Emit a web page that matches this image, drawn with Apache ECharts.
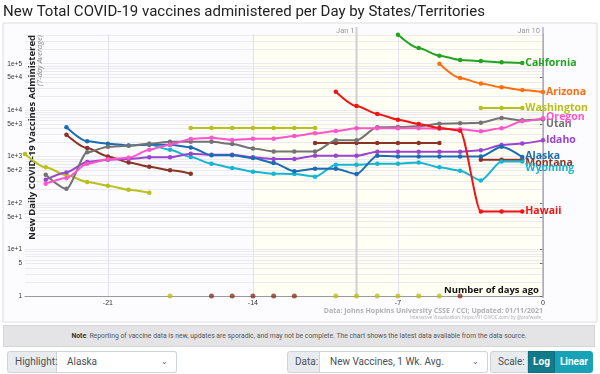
<!DOCTYPE html>
<html><head><meta charset="utf-8">
<script src="https://cdn.jsdelivr.net/npm/echarts@6/dist/echarts.min.js"></script>
<style>
html,body{margin:0;padding:0;background:#fff;width:600px;height:374px;overflow:hidden;font-family:Roboto,"Liberation Sans",sans-serif;}
#chart{position:absolute;left:0;top:0;width:600px;height:324px;}
.note{position:absolute;left:3px;top:325px;width:592px;height:22px;background:#e4e4e6;border:1px solid #d6d6d8;box-sizing:border-box;font-size:6.8px;color:#555;text-align:center;line-height:21px;}
.note b{color:#333;}
.box{position:absolute;top:351px;height:22px;box-sizing:border-box;font-size:10px;color:#495057;line-height:20px;white-space:nowrap;}
.lbl{background:#e9ecef;border:1px solid #ced4da;border-radius:3px 0 0 3px;padding-left:7px;}
.sel{background:#fff;border:1px solid #ced4da;border-left:none;border-radius:0 3px 3px 0;padding-left:10px;}
.chev{position:absolute;right:8px;top:0;font-size:8px;color:#666;}
.btn{color:#fff;font-weight:bold;text-align:center;}
</style></head>
<body>
<div id="chart"></div>
<div class="note"><b>Note</b>: Reporting of vaccine data is new, updates are sporadic, and may not be complete. The chart shows the latest data available from the data source.</div>
<div class="box lbl" style="left:7px;width:50px;">Highlight:</div>
<div class="box sel" style="left:57px;width:120px;">Alaska<span class="chev">&#8964;</span></div>
<div class="box lbl" style="left:287px;width:33px;">Data:</div>
<div class="box sel" style="left:320px;width:168px;">New Vaccines, 1 Wk. Avg.<span class="chev">&#8964;</span></div>
<div class="box lbl" style="left:490px;width:38px;">Scale:</div>
<div class="box btn" style="left:528px;width:27px;background:#117a8b;border:1px solid #10707f;">Log</div>
<div class="box btn" style="left:555px;width:38px;background:#17a2b8;border:1px solid #17a2b8;border-radius:0 3px 3px 0;">Linear</div>
<script>
const N = null;
const days = [-25,-24,-23,-22,-21,-20,-19,-18,-17,-16,-15,-14,-13,-12,-11,-10,-9,-8,-7,-6,-5,-4,-3,-2,-1,0];
const xTicks = [-21,-14,-7,0];
const yLabelTicks = [1,5,10,50,100,500,1000,5000,10000,50000,100000];
const yMax = 436000;

const california = [N,N,N,N,N,N,N,N,N,N,N,N,N,N,N,N,N,N,422000,218000,149000,120500,114600,107000,104000,N];
const arizona    = [N,N,N,N,N,N,N,N,N,N,N,N,N,N,N,N,N,N,N,N,100000,49400,37700,31000,27200,24600];
const washington = [1140,587,400,285,237,194,167,0,4140,4140,4140,4140,4140,4140,4140,0,0,0,0,0,0,N,11150,11150,11150,N];
const oregon     = [N,262,347,700,880,940,1413,1810,2400,2560,2282,2440,2440,2785,3170,3565,4060,4060,4060,4060,4000,3860,3500,4060,5740,6660];
const utah       = [N,409,204,1235,1637,1722,1900,2100,2080,2080,1873,1505,1297,1297,1297,2238,2238,4265,4350,4480,5120,5200,5380,6790,6030,6340];
const idaho      = [N,319,458,767,860,890,964,964,1158,1100,1100,964,890,890,1048,1048,1048,1279,1279,1279,1279,1279,1364,1782,1928,2238];
const alaska     = [N,N,4265,2130,1900,1745,1810,1810,1580,1064,1064,935,730,482,550,550,423,1048,1012,1012,1012,1012,1012,1637,983,N];
const montana    = [N,N,2970,1535,1012,752,608,506,430,0,0,0,0,0,1970,1970,1970,1970,1970,1970,1970,0,860,860,860,N];
const wyoming    = [N,N,N,N,N,N,1900,1413,983,705,570,474,430,423,370,671,671,705,705,752,587,499,308,790,790,N];
const hawaii     = [N,N,N,N,N,N,N,N,N,N,N,N,N,N,N,1000*25,12300,8280,6250,5045,4140,3620,66,66,66,N];

const states = [
  {name:'Montana', data:montana},
  {name:'Washington', data:washington},
  {name:'Wyoming', data:wyoming},
  {name:'Idaho', data:idaho},
  {name:'Alaska', data:alaska},
  {name:'Utah', data:utah},
  {name:'Oregon', data:oregon},
  {name:'Hawaii', data:hawaii},
  {name:'Arizona', data:arizona},
  {name:'California', data:california}
];
const styles = {
  California:{color:'#22a322', off:[0,0]},
  Arizona:{color:'#ff6f12', off:[0,0]},
  Washington:{color:'#b9c01c', off:[0,0]},
  Oregon:{color:'#ff55c9', off:[0,-1]},
  Utah:{color:'#737373', off:[0,5]},
  Idaho:{color:'#9a44cf', off:[0,0]},
  Alaska:{color:'#1b6cb3', off:[0,-1]},
  Montana:{color:'#8b3426', off:[0,3]},
  Wyoming:{color:'#16b5d2', off:[0,7]},
  Hawaii:{color:'#f01414', off:[0,0]}
};

function minorVals(){
  const out=[];
  for(let e=0;e<=5;e++){for(let k=1;k<=9;k++){const v=k*Math.pow(10,e); if(v<=yMax) out.push(v);}}
  return out;
}
function fmtY(v){
  if(v<10) return String(v);
  const e=Math.floor(Math.log10(v)+1e-9);
  const m=Math.round(v/Math.pow(10,e));
  return m+'e+'+e;
}

const series=[];
states.forEach(s=>{
  const st=styles[s.name];
  series.push({
    type:'line', name:s.name, xAxisIndex:0, yAxisIndex:0,
    data: days.map((d,i)=> (s.data[i]!==null && s.data[i]>0) ? [d,s.data[i]] : [d,null]),
    connectNulls:false, smooth:0.25, smoothMonotone:'x',
    symbol:'circle', symbolSize:4.5, showSymbol:true,
    lineStyle:{width:2, color:st.color}, itemStyle:{color:st.color},
    emphasis:{disabled:true}, animation:false, z:3,
    endLabel:{show:true, formatter:s.name, color:st.color, fontFamily:'"Open Sans"', fontWeight:'bold', fontSize:10.5, offset:st.off, distance:3}
  });
  const zeros = days.map((d,i)=> s.data[i]===0 ? [d,1] : null).filter(p=>p);
  if(zeros.length){
    series.push({type:'scatter', name:s.name+' zero', data:zeros, symbolSize:5,
      itemStyle:{color:st.color}, animation:false, z:4, emphasis:{disabled:true}, clip:false});
  }
});

const option = {
  animation:false,
  grid:{left:25, right:57, top:34, bottom:28, containLabel:false},
  xAxis:{type:'value', min:-25, max:0,
    axisLine:{show:true, onZero:false, lineStyle:{color:'#9a9a9a', width:1}},
    axisTick:{show:false, customValues:xTicks},
    axisLabel:{customValues:xTicks, fontSize:7, color:'#333', margin:4},
    splitLine:{show:true, lineStyle:{color:'#e2e0ee', width:1}}
  },
  yAxis:[
    {type:'log', logBase:10, min:1, max:yMax,
     axisLine:{show:true, lineStyle:{color:'#9a9a9a', width:1}},
     axisTick:{show:true, length:3, customValues:yLabelTicks, lineStyle:{color:'#666'}},
     axisLabel:{customValues:yLabelTicks, formatter:fmtY, fontSize:6.5, color:'#333', margin:3},
     splitLine:{show:false}
    },
    {type:'log', logBase:10, min:1, max:yMax, position:'left',
     axisLine:{show:false}, axisLabel:{show:false},
     axisTick:{show:false, customValues:minorVals()},
     splitLine:{show:true, lineStyle:{color:'#ebeaf1', width:1}}
    }
  ],
  series:series
};

const chart = echarts.init(document.getElementById('chart'), null, {renderer:'canvas'});
chart.setOption(option);

const px = d => chart.convertToPixel({xAxisIndex:0}, d);
const py = v => chart.convertToPixel({yAxisIndex:0}, v);
const xL = px(-25), xR = px(0), xJan1 = px(-9), x14 = px(-14);
const yT = py(yMax), yB = py(1);

chart.setOption({graphic:[
  {type:'rect', z:-20, silent:true, shape:{x:3,y:23,width:594,height:299}, style:{fill:'#fcfbfe', stroke:'#dedede', lineWidth:1}},
  {type:'rect', z:-19, silent:true, shape:{x:x14,y:yT,width:xR-x14,height:yB-yT}, style:{fill:'#fffff3'}},
  {type:'line', z:1, silent:true, shape:{x1:xJan1,y1:27,x2:xJan1,y2:yB}, style:{stroke:'#cfcfcf', lineWidth:2}},
  {type:'line', z:1, silent:true, shape:{x1:xR,y1:27,x2:xR,y2:yB+2}, style:{stroke:'#b4b2c4', lineWidth:1.5}},
  {type:'text', silent:true, x:xJan1-2, y:31, style:{text:'Jan 1', align:'right', verticalAlign:'middle', fontSize:7.5, fill:'#9a9a9a', fontFamily:'Roboto'}},
  {type:'text', silent:true, x:xR-3, y:31, style:{text:'Jan 10', align:'right', verticalAlign:'middle', fontSize:7.5, fill:'#9a9a9a', fontFamily:'Roboto'}},
  {type:'text', silent:true, x:3, y:12, style:{text:'New Total COVID-19 vaccines administered per Day by States/Territories', align:'left', verticalAlign:'middle', fontSize:15, fill:'#222', fontFamily:'Roboto'}},
  {type:'text', silent:true, x:27, y:35, rotation:Math.PI/2, style:{text:'New Daily COVID-19 Vaccines Administered', align:'right', verticalAlign:'top', fontSize:9.5, fontWeight:'bold', fill:'#222', fontFamily:'"Open Sans"'}},
  {type:'text', silent:true, x:36, y:35, rotation:Math.PI/2, style:{text:'(7-day Average)', align:'right', verticalAlign:'top', fontSize:7.5, fontStyle:'italic', fill:'#888', fontFamily:'"Open Sans"'}},
  {type:'text', silent:true, x:xR-4, y:yB-6, style:{text:'Number of days ago', align:'right', verticalAlign:'middle', fontSize:9.5, fontWeight:'bold', fill:'#111', fontFamily:'"Open Sans"'}},
  {type:'text', silent:true, x:xR, y:311, style:{text:'Data: Johns Hopkins University CSSE / CCI; Updated: 01/11/2021', align:'right', verticalAlign:'middle', fontSize:7, fontWeight:'bold', fill:'#b0b0b0', fontFamily:'"Open Sans"'}},
  {type:'text', silent:true, x:xR, y:318, style:{text:'Interactive Visualization: https://91-DIVOC.com/ by @profwade_', align:'right', verticalAlign:'middle', fontSize:4.5, fill:'#aaa', fontFamily:'"Open Sans"'}}
]});
</script>
</body></html>
